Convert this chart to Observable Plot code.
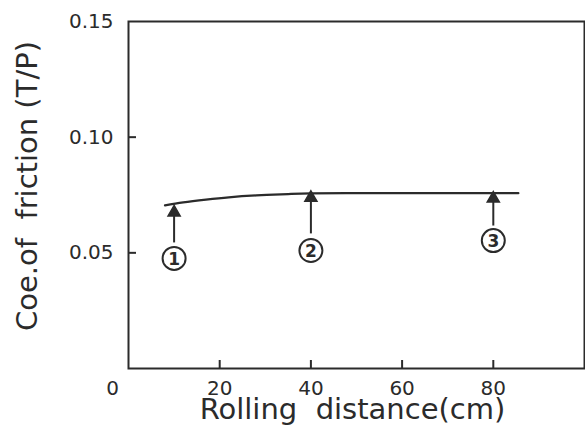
<!DOCTYPE html>
<html>
<head>
<meta charset="utf-8">
<script src="https://cdn.jsdelivr.net/npm/d3@7"></script>
<script src="https://cdn.jsdelivr.net/npm/@observablehq/plot@0.6"></script>
<style>
  html, body { margin: 0; padding: 0; background: #fff; }
  svg { display: block; }
</style>
</head>
<body>
<div id="chart"></div>
<script>
// Curve: coefficient of friction vs rolling distance
const curveX = [8, 12, 17, 22, 28, 35, 40, 50, 60, 70, 80, 85.5];
const curveY = [0.0705, 0.0718, 0.0730, 0.0740, 0.0748, 0.0754, 0.0757, 0.0758, 0.0758, 0.0758, 0.0758, 0.0758];

// Numbered markers (arrows + circled numbers)
const markerLabels = ["1", "2", "3"];
const markerX = [10, 40, 80];
const arrowTipY = [0.0692, 0.0755, 0.0752];
const arrowTailY = [0.0545, 0.0584, 0.0618];
const circleY = [0.0476, 0.0510, 0.0553];

// Axes
const xTicks = [20, 40, 60, 80];
const yTicks = [0.05, 0.10, 0.15];
const yInnerTicks = [0.05, 0.10];
const xLabel = "Rolling  distance(cm)";
const yLabel = "Coe.of  friction (T/P)";
const originLabel = "0";

const curve = curveX.map((x, i) => ({x, y: curveY[i]}));
const markers = markerLabels.map((label, i) => ({
  label, x: markerX[i], tip: arrowTipY[i], tail: arrowTailY[i], cy: circleY[i]
}));

const ink = "#2b2b2b";
const font = "DejaVu Sans, sans-serif";

const plot = Plot.plot({
  width: 585,
  height: 441,
  marginLeft: 128,
  marginRight: 1,
  marginTop: 21,
  marginBottom: 73,
  style: {fontFamily: font, color: ink, background: "white"},
  x: {domain: [0, 100], axis: null},
  y: {domain: [0, 0.15], axis: null},
  marks: [
    Plot.frame({stroke: ink, strokeWidth: 2}),
    // inward ticks
    Plot.tickY(yInnerTicks, {y: d => d, stroke: ink, strokeWidth: 2, insetRight: 448}),
    Plot.tickX(xTicks, {x: d => d, stroke: ink, strokeWidth: 2, insetTop: 339}),
    // tick labels
    Plot.text(yTicks, {y: d => d, text: d => d3.format(".2f")(d), frameAnchor: "left", dx: -15, textAnchor: "end", lineAnchor: "middle", fontSize: 20, fill: ink}),
    Plot.text(xTicks, {x: d => d, text: d => String(d), frameAnchor: "bottom", dy: 20, textAnchor: "middle", lineAnchor: "middle", fontSize: 20, fill: ink}),
    Plot.text([originLabel], {x: 0, text: d => d, frameAnchor: "bottom", dx: -16, dy: 20, textAnchor: "middle", lineAnchor: "middle", fontSize: 20, fill: ink}),
    // axis labels
    Plot.text([xLabel], {text: d => d, frameAnchor: "bottom", dx: -4, dy: 41, textAnchor: "middle", lineAnchor: "middle", fontSize: 29, fill: ink}),
    Plot.text([yLabel], {text: d => d, frameAnchor: "left", dx: -101, dy: -9, rotate: -90, textAnchor: "middle", lineAnchor: "middle", fontSize: 29, fill: ink}),
    // curve
    Plot.line(curve, {x: "x", y: "y", curve: "natural", stroke: ink, strokeWidth: 2.2}),
    // arrows
    Plot.link(markers, {x1: "x", x2: "x", y1: "tail", y2: "tip", stroke: ink, strokeWidth: 2}),
    Plot.dot(markers, {x: "x", y: "tip", symbol: "triangle", r: 4.5, fill: ink, stroke: ink, dy: 4}),
    // circled numbers
    Plot.dot(markers, {x: "x", y: "cy", r: 11.5, fill: "white", stroke: ink, strokeWidth: 2}),
    Plot.text(markers, {x: "x", y: "cy", text: "label", fontSize: 17, fontWeight: "bold", fill: ink, dy: 1})
  ]
});

document.getElementById("chart").appendChild(plot);
</script>
</body>
</html>
